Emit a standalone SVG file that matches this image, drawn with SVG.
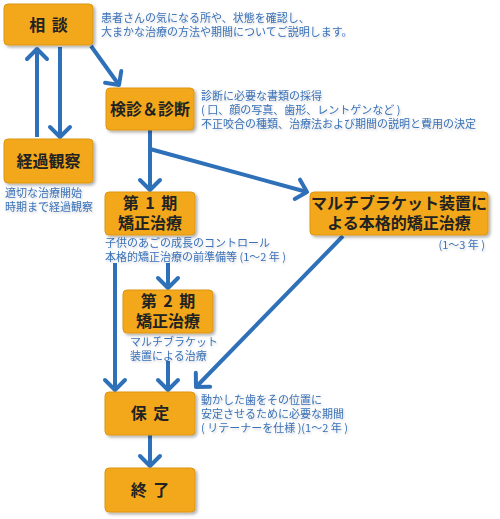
<svg xmlns="http://www.w3.org/2000/svg" width="500" height="519" viewBox="0 0 500 519">
<defs>
<filter id="sh" x="-10%" y="-10%" width="130%" height="140%">
<feDropShadow dx="2" dy="2" stdDeviation="1.5" flood-color="#000" flood-opacity="0.3"/>
</filter>
<filter id="tsh" x="-5%" y="-20%" width="110%" height="160%">
<feDropShadow dx="1" dy="1.5" stdDeviation="1" flood-color="#000" flood-opacity="0.18"/>
</filter>
<marker id="ah" viewBox="-14 -14 18 28" refX="0" refY="0" markerWidth="18" markerHeight="28" markerUnits="userSpaceOnUse" orient="auto">
<path d="M-10,-10 L0,0 L-10,10" fill="none" stroke="#2F71B8" stroke-width="4" stroke-linecap="round" stroke-linejoin="round"/>
</marker>
</defs>
<style>
.box{fill:#F3A81D;stroke:#DC9610;stroke-width:1;filter:url(#sh)}
.lb{font-family:"Noto Sans CJK JP","Noto Sans",sans-serif;font-weight:bold;font-size:16px;fill:#222;text-anchor:middle}
.ws{word-spacing:3px}
.ds{font-family:"Noto Sans CJK JP","Noto Sans",sans-serif;font-size:11px;fill:#3A72B8;filter:url(#tsh)}
.cn{stroke:#2F71B8;stroke-width:4;fill:none;stroke-linecap:butt}
</style>
<rect width="500" height="519" fill="#fff"/>
<g id="connectors">
<line class="cn" x1="91" y1="46" x2="119" y2="85" marker-end="url(#ah)"/>
<line class="cn" x1="37" y1="137" x2="37" y2="49" marker-end="url(#ah)"/>
<line class="cn" x1="60" y1="47" x2="60" y2="137" marker-end="url(#ah)"/>
<line class="cn" x1="150" y1="130" x2="150" y2="190" marker-end="url(#ah)"/>
<line class="cn" x1="150" y1="149" x2="307" y2="192" marker-end="url(#ah)"/>
<line class="cn" x1="168" y1="263" x2="168" y2="288" marker-end="url(#ah)"/>
<line class="cn" x1="115" y1="263" x2="115" y2="390" marker-end="url(#ah)"/>
<line class="cn" x1="168" y1="361" x2="168" y2="390" marker-end="url(#ah)"/>
<line class="cn" x1="343" y1="236" x2="196" y2="387" marker-end="url(#ah)"/>
<line class="cn" x1="150" y1="435" x2="150" y2="466" marker-end="url(#ah)"/>
</g>
<g id="soudan">
<rect class="box" x="4" y="4" width="89" height="41" rx="4"/>
<text class="lb ws" x="48.5" y="31">相 談</text>
<text class="ds" x="101" y="22">患者さんの気になる所や、状態を確認し、<tspan x="101" dy="14">大まかな治療の方法や期間についてご説明します。</tspan></text>
</g>
<g id="kenshin">
<rect class="box" x="106" y="88" width="88" height="42" rx="4"/>
<text class="lb" x="150" y="115">検診＆診断</text>
<text class="ds" x="201" y="100">診断に必要な書類の採得<tspan x="201" dy="14">( 口、顔の写真、歯形、レントゲンなど )</tspan><tspan x="201" dy="14">不正咬合の種類、治療法および期間の説明と費用の決定</tspan></text>
</g>
<g id="keika">
<rect class="box" x="4" y="139" width="89" height="44" rx="4"/>
<text class="lb" x="48.5" y="167">経過観察</text>
<text class="ds" x="5" y="197">適切な治療開始<tspan x="5" dy="14">時期まで経過観察</tspan></text>
</g>
<g id="dai1">
<rect class="box" x="105" y="192" width="90" height="43" rx="4"/>
<text class="lb" x="150" y="209"><tspan class="ws">第 1 期</tspan><tspan x="150" dy="20">矯正治療</tspan></text>
<text class="ds" x="105" y="247">子供のあごの成長のコントロール<tspan x="105" dy="14">本格的矯正治療の前準備等 (1〜2 年 )</tspan></text>
</g>
<g id="multi">
<rect class="box" x="310" y="192" width="178" height="43" rx="4"/>
<text class="lb" x="399" y="209">マルチブラケット装置に<tspan x="399" dy="20">よる本格的矯正治療</tspan></text>
<text class="ds" x="485" y="249" text-anchor="end">(1〜3 年 )</text>
</g>
<g id="dai2">
<rect class="box" x="123" y="290" width="90" height="43" rx="4"/>
<text class="lb" x="168" y="307"><tspan class="ws">第 2 期</tspan><tspan x="168" dy="20">矯正治療</tspan></text>
<text class="ds" x="130" y="346">マルチブラケット<tspan x="130" dy="14">装置による治療</tspan></text>
</g>
<g id="hotei">
<rect class="box" x="105" y="392" width="90" height="43" rx="4"/>
<text class="lb ws" x="150" y="419">保 定</text>
<text class="ds" x="201" y="404">動かした歯をその位置に<tspan x="201" dy="14">安定させるために必要な期間</tspan><tspan x="201" dy="14">( リテーナーを仕様 )(1〜2 年 )</tspan></text>
</g>
<g id="shuryo">
<rect class="box" x="105" y="468" width="90" height="44" rx="4"/>
<text class="lb ws" x="150" y="496">終 了</text>
</g>
</svg>
